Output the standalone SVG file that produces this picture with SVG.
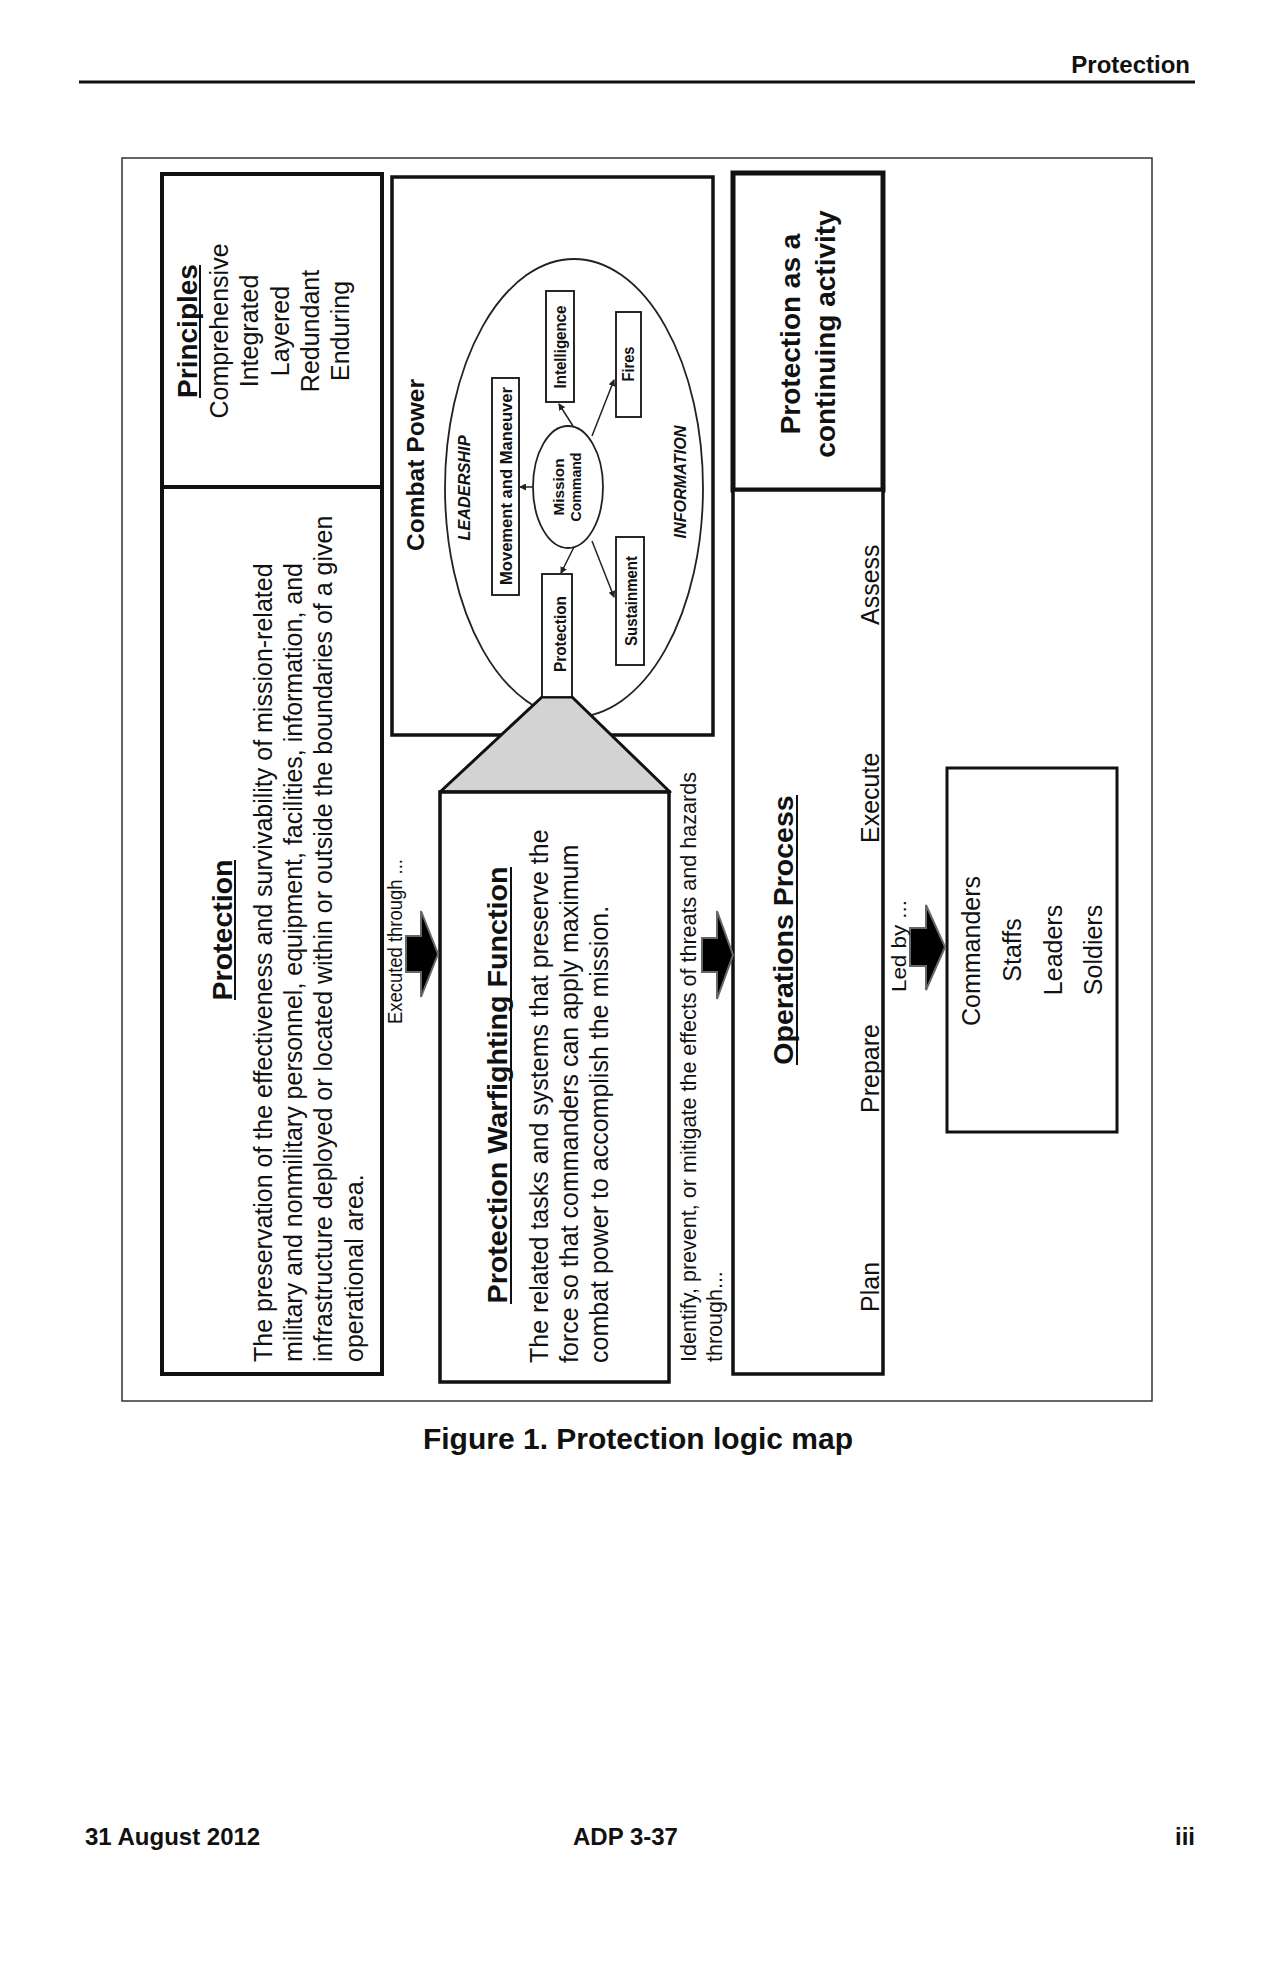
<svg xmlns="http://www.w3.org/2000/svg" width="1270" height="1972" viewBox="0 0 1270 1972">
<defs>
<style>
text{font-family:"Liberation Sans",Arial,sans-serif;fill:#111}
.b{font-weight:bold}
.r25{font-size:25px}
.t28{font-size:28.5px;font-weight:bold}
.lbl{font-size:16px;font-weight:bold}
.bi{font-size:16px;font-weight:bold;font-style:italic}
.box{fill:#fff;stroke:#111}
.ul{stroke:#111;stroke-width:2}
.con{stroke:#222;stroke-width:1.5;fill:none}
.blk{fill:#000;stroke:#666;stroke-width:2;stroke-linejoin:miter}
</style>
<marker id="ah" markerWidth="7" markerHeight="7" refX="6" refY="3.5" orient="auto" markerUnits="userSpaceOnUse">
<path d="M0,0 L7,3.5 L0,7 z" fill="#222"/>
</marker>
</defs>
<rect width="1270" height="1972" fill="#fff"/>

<g id="page-header">
<text class="b" x="1190" y="73" font-size="24" text-anchor="end">Protection</text>
<line x1="79" y1="82" x2="1195" y2="82" stroke="#111" stroke-width="3"/>
</g>

<rect id="frame" x="122" y="158" width="1030" height="1243" fill="none" stroke="#333" stroke-width="1.5"/>

<g id="principles">
<rect class="box" x="162" y="174" width="220" height="313" stroke-width="4"/>
<text class="b" font-size="28" text-anchor="middle" transform="translate(197 331) rotate(-90)">Principles</text>
<line class="ul" x1="200" y1="265" x2="200" y2="398"/>
<text class="r25" text-anchor="middle" transform="translate(227.5 331) rotate(-90)">Comprehensive</text>
<text class="r25" text-anchor="middle" transform="translate(258 331) rotate(-90)">Integrated</text>
<text class="r25" text-anchor="middle" transform="translate(288.5 331) rotate(-90)">Layered</text>
<text class="r25" text-anchor="middle" transform="translate(319 331) rotate(-90)">Redundant</text>
<text class="r25" text-anchor="middle" transform="translate(349 331) rotate(-90)">Enduring</text>
</g>

<g id="protection">
<rect class="box" x="162" y="487" width="220" height="887" stroke-width="4"/>
<text class="t28" text-anchor="middle" transform="translate(232 930) rotate(-90)">Protection</text>
<line class="ul" x1="235" y1="860" x2="235" y2="1000"/>
<text class="r25" transform="translate(272 1362) rotate(-90)">The preservation of the effectiveness and survivability of mission-related</text>
<text class="r25" transform="translate(302 1362) rotate(-90)">military and nonmilitary personnel, equipment, facilities, information, and</text>
<text class="r25" transform="translate(332 1362) rotate(-90)">infrastructure deployed or located within or outside the boundaries of a given</text>
<text class="r25" transform="translate(363 1362) rotate(-90)">operational area.</text>
</g>

<g id="combat-power">
<rect class="box" x="392" y="177" width="321" height="558" stroke-width="3.5"/>
<text font-family="'Open Sans',sans-serif" font-weight="bold" font-size="23.5" text-anchor="middle" textLength="172" lengthAdjust="spacingAndGlyphs" transform="translate(424 465) rotate(-90)">Combat Power</text>
<ellipse cx="574" cy="488" rx="129" ry="229" fill="none" stroke="#222" stroke-width="1.8"/>
<text class="bi" text-anchor="middle" textLength="105" lengthAdjust="spacingAndGlyphs" transform="translate(470 488) rotate(-90)">LEADERSHIP</text>
<text class="bi" text-anchor="middle" textLength="113" lengthAdjust="spacingAndGlyphs" transform="translate(686 482) rotate(-90)">INFORMATION</text>
</g>

<g id="mission-command">
<ellipse cx="568" cy="487" rx="35" ry="61" fill="#fff" stroke="#222" stroke-width="1.8"/>
<text class="b" font-size="15" text-anchor="middle" textLength="57" lengthAdjust="spacingAndGlyphs" transform="translate(564 487) rotate(-90)">Mission</text>
<text class="b" font-size="15" text-anchor="middle" textLength="69" lengthAdjust="spacingAndGlyphs" transform="translate(581 487) rotate(-90)">Command</text>
</g>

<g id="movement-maneuver">
<rect class="box" x="492" y="378" width="27" height="217" stroke-width="1.8"/>
<text class="lbl" text-anchor="middle" textLength="198" lengthAdjust="spacingAndGlyphs" transform="translate(512 486) rotate(-90)">Movement and Maneuver</text>
</g>
<g id="intelligence">
<rect class="box" x="546" y="291" width="28" height="111" stroke-width="1.8"/>
<text class="lbl" text-anchor="middle" textLength="83" lengthAdjust="spacingAndGlyphs" transform="translate(566 347) rotate(-90)">Intelligence</text>
</g>
<g id="fires">
<rect class="box" x="616" y="312" width="25" height="105" stroke-width="1.8"/>
<text class="lbl" text-anchor="middle" textLength="35" lengthAdjust="spacingAndGlyphs" transform="translate(634 364) rotate(-90)">Fires</text>
</g>
<g id="sustainment">
<rect class="box" x="616" y="537" width="28" height="128" stroke-width="1.8"/>
<text class="lbl" text-anchor="middle" textLength="90" lengthAdjust="spacingAndGlyphs" transform="translate(637 601) rotate(-90)">Sustainment</text>
</g>

<g id="funnel">
<polygon points="542,697 572,697 670,792 440,792" fill="#d3d3d3" stroke="#111" stroke-width="3" stroke-linejoin="round"/>
</g>

<g id="protection-cp">
<rect class="box" x="542" y="574" width="30" height="123" stroke-width="1.8"/>
<text class="lbl" text-anchor="middle" textLength="76" lengthAdjust="spacingAndGlyphs" transform="translate(566 634) rotate(-90)">Protection</text>
</g>

<g id="warfighting-function">
<rect class="box" x="440" y="792" width="229" height="590" stroke-width="3.5"/>
<text class="t28" text-anchor="middle" textLength="437" lengthAdjust="spacingAndGlyphs" transform="translate(507 1085) rotate(-90)">Protection Warfighting Function</text>
<line class="ul" x1="511" y1="867" x2="511" y2="1304"/>
<text class="r25" transform="translate(548 1363) rotate(-90)">The related tasks and systems that preserve the</text>
<text class="r25" transform="translate(578 1363) rotate(-90)">force so that commanders can apply maximum</text>
<text class="r25" transform="translate(608 1363) rotate(-90)">combat power to accomplish the mission.</text>
</g>

<g id="continuing-activity">
<rect class="box" x="733" y="173" width="150" height="317" stroke-width="5"/>
<text class="b" font-size="28" text-anchor="middle" transform="translate(800 334) rotate(-90)">Protection as a</text>
<text class="b" font-size="28" text-anchor="middle" transform="translate(835 334) rotate(-90)">continuing activity</text>
</g>

<g id="operations-process">
<rect class="box" x="733" y="490" width="150" height="884" stroke-width="3.5"/>
<text class="t28" text-anchor="middle" transform="translate(793 930) rotate(-90)">Operations Process</text>
<line class="ul" x1="797" y1="795" x2="797" y2="1065"/>
<text class="r25" transform="translate(879 1312) rotate(-90)">Plan</text>
<text class="r25" transform="translate(879 1113) rotate(-90)">Prepare</text>
<text class="r25" transform="translate(879 843) rotate(-90)">Execute</text>
<text class="r25" transform="translate(879 625) rotate(-90)">Assess</text>
</g>

<g id="leaders">
<rect class="box" x="947" y="768" width="170" height="364" stroke-width="3"/>
<text class="r25" text-anchor="middle" transform="translate(980 951) rotate(-90)">Commanders</text>
<text class="r25" text-anchor="middle" transform="translate(1021 950) rotate(-90)">Staffs</text>
<text class="r25" text-anchor="middle" transform="translate(1062 950) rotate(-90)">Leaders</text>
<text class="r25" text-anchor="middle" transform="translate(1102 950) rotate(-90)">Soldiers</text>
</g>

<g id="connectors">
<line class="con" x1="573" y1="426" x2="559" y2="404" marker-end="url(#ah)"/>
<line class="con" x1="592" y1="436" x2="614" y2="380" marker-end="url(#ah)"/>
<line class="con" x1="592" y1="541" x2="614" y2="597" marker-end="url(#ah)"/>
<line class="con" x1="574" y1="547" x2="561" y2="573" marker-end="url(#ah)"/>
<line class="con" x1="533" y1="487" x2="520" y2="487" marker-end="url(#ah)"/>
<polygon class="blk" points="406,936 421,936 421,911 438,954 421,997 421,972 406,972"/>
<polygon class="blk" points="702,938 717,938 717,911 733,955 717,999 717,972 702,972"/>
<polygon class="blk" points="910,928 926,928 926,905 945,947 926,990 926,966 910,966"/>
<text font-size="20" textLength="165" lengthAdjust="spacingAndGlyphs" transform="translate(402 1024) rotate(-90)">Executed through ...</text>
<text font-size="21.5" textLength="590" lengthAdjust="spacingAndGlyphs" transform="translate(696 1362) rotate(-90)">Identify, prevent, or mitigate the effects of threats and hazards</text>
<text font-size="21.5" transform="translate(722 1362) rotate(-90)">through...</text>
<text font-size="20" textLength="92" lengthAdjust="spacingAndGlyphs" transform="translate(906 992) rotate(-90)">Led by ...</text>
</g>

<g id="caption">
<text class="b" x="638" y="1449" font-size="30" text-anchor="middle">Figure 1. Protection logic map</text>
</g>

<g id="page-footer">
<text class="b" x="85" y="1845" font-size="24">31 August 2012</text>
<text class="b" x="573" y="1845" font-size="24">ADP 3-37</text>
<text class="b" x="1195" y="1845" font-size="24" text-anchor="end">iii</text>
</g>
</svg>
